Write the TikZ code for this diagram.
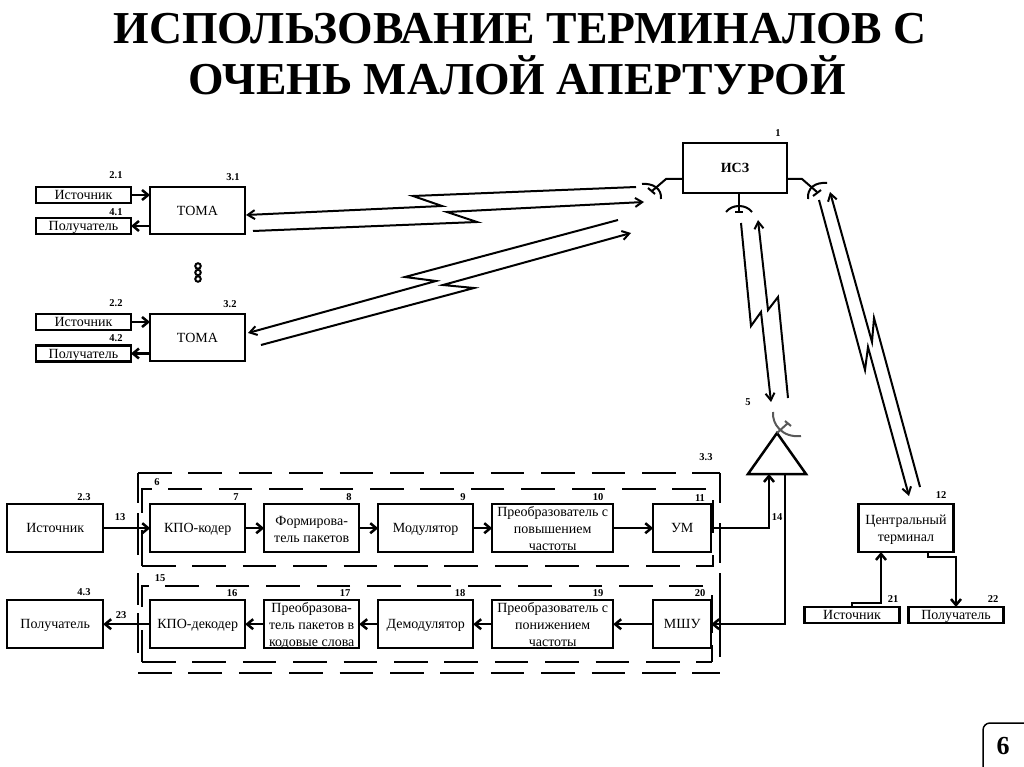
\documentclass[tikz,border=0pt]{standalone}
\usepackage{fontspec}
\setmainfont{Liberation Serif}
\usetikzlibrary{matrix,arrows.meta}
\newcommand{\stroki}[1]{\raisebox{-1pt}{\smash{\begin{tabular}[c]{@{}c@{}}#1\end{tabular}}}}
\tikzset{
	blok/.style={draw, line width=2.5pt, inner sep=0pt, outer sep=0pt, minimum width=95pt, minimum height=48pt, text height=9pt, text depth=0pt, font=\fontsize{14}{17}\selectfont},
	blokm/.style={blok, minimum height=16pt},
	nomer/.style={inner sep=0pt, font=\fontsize{10.5}{10.5}\selectfont\bfseries},
	zagol/.style={inner sep=0pt, font=\fontsize{45.7}{46}\selectfont\bfseries},
	lin/.style={line width=2.5pt, >={Straight Barb[length=6pt,width=10pt,line width=2.5pt]}},
	radio/.style={line width=2pt, >={Straight Barb[length=7pt,width=9pt,line width=2pt]}, line join=miter},
	shtrih/.style={line width=2.5pt, dash pattern=on 33.6pt off 16.8pt},
	zerk/.style={line width=2pt}
}
\begin{document}
\begin{tikzpicture}[x=1pt, y=-1pt]
	\useasboundingbox (0,0) rectangle (1024,767);
	\node[zagol] (zag1) at (520,29) {ИСПОЛЬЗОВАНИЕ ТЕРМИНАЛОВ С};
	\node[zagol] (zag2) at (517,75) {ОЧЕНЬ МАЛОЙ АПЕРТУРОЙ};
	% upper terminals
	\node[blokm] (ist1) at (83.5,195) {Источник};
	\node[blokm] (pol1) at (83.5,226) {Получатель};
	\node[blok, minimum height=47pt] (toma1) at (197.5,210.5) {ТОМА};
	\node[blokm] (ist2) at (83.5,322) {Источник};
	\node[blokm] (pol2) at (83.5,353.5) {Получатель};
	\node[blok, minimum height=47pt] (toma2) at (197.5,337.5) {ТОМА};
	\path[lin, ->]
	(ist1) edge (toma1.west |- ist1)
	(toma1.west |- pol1) edge (pol1)
	(ist2) edge (toma2.west |- ist2)
	(toma2.west |- pol2) edge (pol2);
	\foreach \y [count=\i] in {266,272.5,279}
		\node[circle, draw, line width=2pt, inner sep=0pt, minimum size=5.5pt] (toch\i) at (198,\y) {};
	% satellite
	\node[blok, minimum width=104pt, minimum height=50pt, font=\fontsize{14}{17}\selectfont\bfseries] (isz) at (735,168) {ИСЗ};
	\coordinate (zl) at (652,191);
	\coordinate (zp) at (817,192);
	\coordinate (zn) at (739,212);
	\draw[lin, line width=2pt] ([yshift=-11pt]isz.west) -- (666,179) -- (zl);
	\draw[lin, line width=2pt] ([yshift=-11pt]isz.east) -- (802,179) -- (zp);
	\draw[lin, line width=2pt] ([xshift=4pt]isz.south) -- (zn);
	\draw[zerk] (642,184) .. controls (652,183) and (662,188) .. (661,199);
	\draw[zerk] (648,188) -- (655,194);
	\draw[zerk] (827,183) .. controls (815,182) and (807,188) .. (808,199);
	\draw[zerk] (813,196) -- (821,190);
	\draw[zerk] (726,212) .. controls (732,204) and (746,204) .. (752,212);
	\draw[zerk] (735,212) -- (743,212);
	% radio links
	\draw[radio, ->] (636,187) -- (413,196) -- (442,206) -- (246,215);
	\draw[radio, ->] (253,231) -- (477,222) -- (447,212) -- (644,202);
	\draw[radio, ->] (618,220) -- (405,277) -- (436,281) -- (248,333);
	\draw[radio, ->] (261,345) -- (474,288) -- (443,285) -- (631,233);
	\draw[radio, ->] (741,223) -- (751,326) -- (761,312) -- (771,402);
	\draw[radio, ->] (788,398) -- (778,297) -- (768,310) -- (758,220);
	\draw[radio, ->] (819,200) -- (865,370) -- (868,347) -- (909,496);
	\draw[radio, ->] (920,487) -- (874,318) -- (872,342) -- (830,192);
	% main chain
	\matrix (b) [matrix of nodes, anchor=north west, inner sep=0pt, row sep=45.5pt, nodes={blok, anchor=center},
		column 1/.style={nodes={minimum width=96pt}},
		column 5/.style={nodes={minimum width=121pt}},
		column 6/.style={nodes={minimum width=58pt}}] at (5.75,502.75)
	{
		Источник &[44.5pt] КПО-кодер &[16.5pt] \stroki{Формирова-\\тель пакетов} &[16.5pt] Модулятор &[16.5pt] \stroki{Преобразователь с\\повышением\\частоты} &[37.5pt] УМ \\
		Получатель & КПО-декодер & \stroki{Преобразова-\\тель пакетов в\\кодовые слова} & Демодулятор & \stroki{Преобразователь с\\понижением\\частоты} & МШУ \\
	};
	\path[lin, ->]
	(b-1-1) edge (b-1-2)
	(b-1-2) edge (b-1-3)
	(b-1-3) edge (b-1-4)
	(b-1-4) edge (b-1-5)
	(b-1-5) edge (b-1-6)
	(b-2-2) edge (b-2-1)
	(b-2-3) edge (b-2-2)
	(b-2-4) edge (b-2-3)
	(b-2-5) edge (b-2-4)
	(b-2-6) edge (b-2-5);
	% dashed frames
	\draw[shtrih] (138,473) -- (720,473);
	\draw[shtrih] (138,673) -- (720,673);
	\draw[shtrih] (706,489) -- (142,489) -- (142,513);
	\draw[shtrih] (142,566) -- (713,566) -- (713,555);
	\draw[shtrih] (703,586) -- (142,586) -- (142,607);
	\draw[shtrih] (142,662) -- (712,662);
	\draw[lin] (138,473) -- (138,503) (138,513) -- (138,555) (138,573) -- (138,605) (138,613) -- (138,653);
	\draw[lin] (720,473) -- (720,503) (720,523) -- (720,563) (720,573) -- (720,657);
	\draw[lin] (142,530) -- (142,566) (142,630) -- (142,662);
	\draw[lin] (713,500) -- (713,533) (712,595) -- (712,633) (712,645) -- (712,662);
	% antenna
	\coordinate (antv) at (777,433);
	\coordinate (antl) at (748,474);
	\coordinate (antp) at (806,474);
	\coordinate (antvh) at (769,474);
	\coordinate (antvyh) at (785,474);
	\draw[lin, line join=miter] (antl) -- (antv) -- (antp) -- cycle;
	\draw[lin, ->] (b-1-6) -| (antvh);
	\draw[lin, ->] (antvyh) |- (b-2-6);
	\draw[zerk, black!65] (773,412) .. controls (772,424) and (782,438) .. (801,436);
	\draw[zerk, black!65] (antv) -- (788,423);
	\draw[zerk, black!65] (785,421) -- (791,426);
	% central terminal
	\node[blok] (cent) at (906,528) {\stroki{Центральный\\терминал}};
	\node[blokm] (ist4) at (852,615) {Источник};
	\node[blokm] (pol4) at (956,615) {Получатель};
	\draw[lin, ->] (ist4.north) -- ++(0,-4) -| ([xshift=-25pt]cent.south);
	\draw[lin, ->] ([xshift=22pt]cent.south) -- ++(0,5) -| (pol4.north);
	% numbers
	\foreach \t/\x/\y [count=\i] in {1/778/133, 2.1/116/175, 3.1/233/177, 4.1/116/212, 2.2/116/303, 3.2/230/304, 4.2/116/338,
		2.3/84/497, 13/120/517, 6/157/482, 7/236/497, 8/349/497, 9/463/497, 10/598/497, 11/700/498, 3.3/706/457, 14/777/517, 5/748/402,
		4.3/84/592, 23/121/615, 15/160/578, 16/232/593, 17/345/593, 18/460/593, 19/598/593, 20/700/593,
		12/941/495, 21/893/599, 22/993/599}
		\node[nomer] (n\i) at (\x,\y) {\t};
	% page number
	\draw[line width=1.5pt, rounded corners=7pt] (983,768) -- (983,723) -- (1030,723);
	\node[inner sep=0pt, font=\fontsize{26}{26}\selectfont\bfseries] (str) at (1003,746) {6};
\end{tikzpicture}
\end{document}
